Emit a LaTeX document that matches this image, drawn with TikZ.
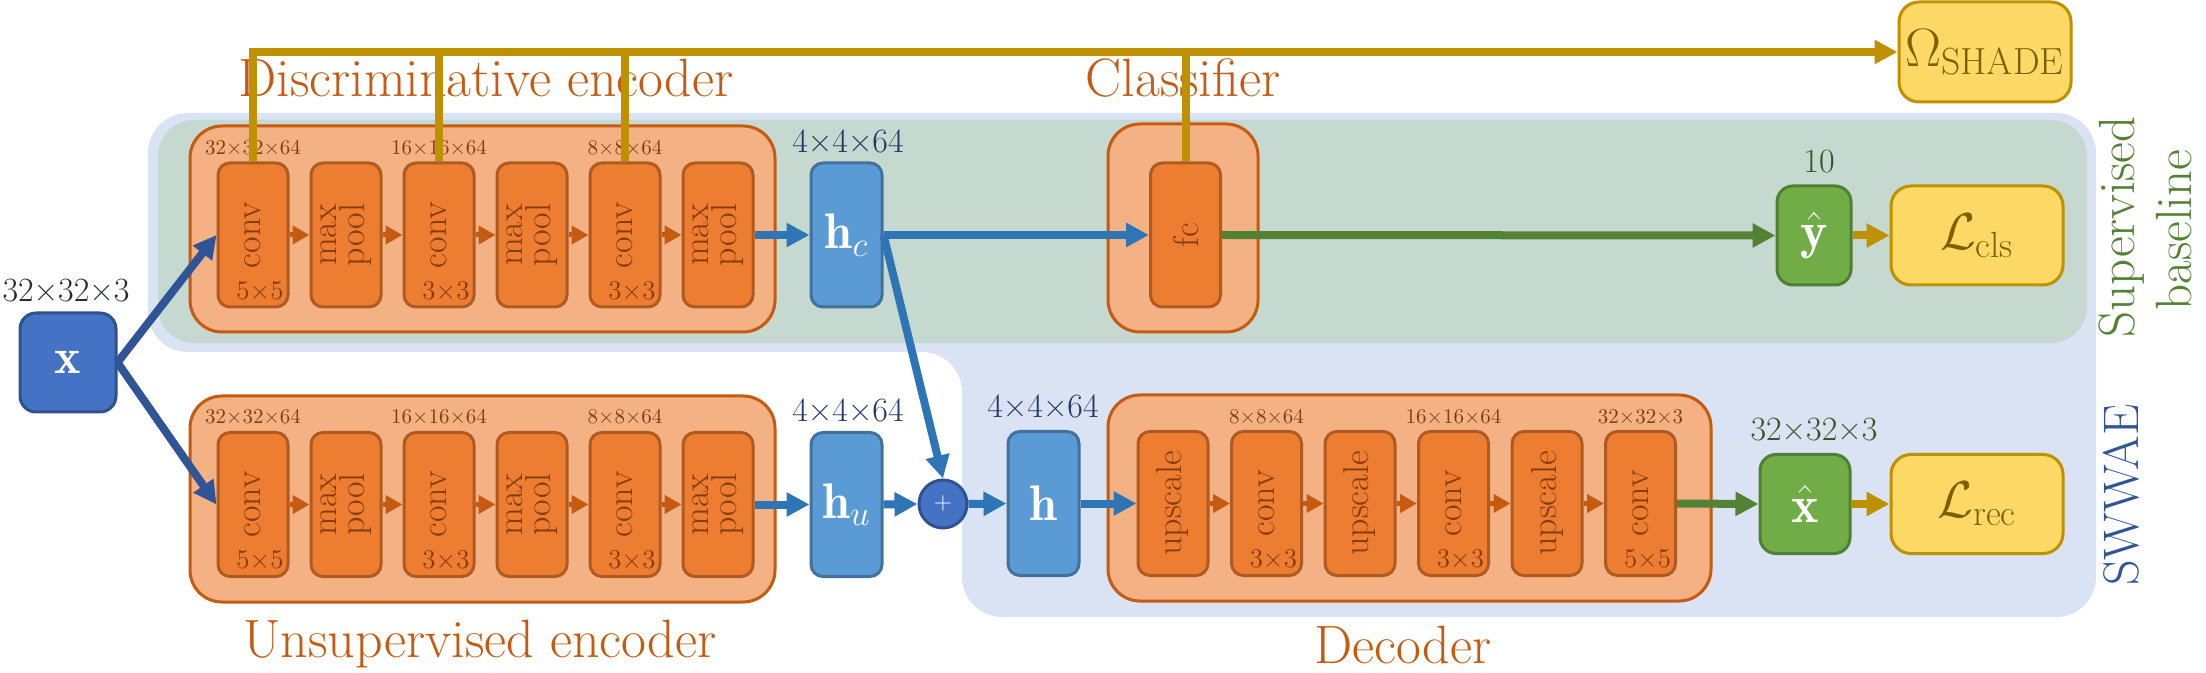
\RequirePackage{fix-cm}
\documentclass[tikz,border=0pt]{standalone}
\usepackage{fontspec}
\usepackage{amsmath}
\usetikzlibrary{arrows.meta,calc}
\definecolor{bluereg}{HTML}{DAE3F3}
\definecolor{greenreg}{HTML}{C5D9D1}
\definecolor{orlight}{HTML}{F4B183}
\definecolor{orborder}{HTML}{C55A11}
\definecolor{ordark}{HTML}{ED7D31}
\definecolor{orinborder}{HTML}{AE5A21}
\definecolor{txtbrown}{HTML}{843C0C}
\definecolor{hblue}{HTML}{5B9BD5}
\definecolor{hborder}{HTML}{41719C}
\definecolor{xblue}{HTML}{4472C4}
\definecolor{xborder}{HTML}{2F528F}
\definecolor{arrblue}{HTML}{2E75B6}
\definecolor{arrdark}{HTML}{2F5597}
\definecolor{gfill}{HTML}{70AD47}
\definecolor{gborder}{HTML}{507E32}
\definecolor{garrow}{HTML}{548235}
\definecolor{yfill}{HTML}{FFD966}
\definecolor{yborder}{HTML}{BF9000}
\definecolor{ytext}{HTML}{7F6000}
\definecolor{navy}{HTML}{203864}
\definecolor{darkgray}{HTML}{222A35}
\definecolor{dgreen}{HTML}{375623}
\tikzset{
 blk/.style={draw=orinborder, fill=ordark, line width=1.5pt, rounded corners=6pt, minimum width=35pt, minimum height=72pt, inner sep=0pt},
 outer/.style={draw=orborder, fill=orlight, line width=1.5pt, rounded corners=16pt, inner sep=0pt},
 rot/.style={rotate=90, text=txtbrown, font=\fontsize{18}{12.5}\selectfont, align=center, inner sep=0pt},
 ker/.style={text=txtbrown, font=\fontsize{13.5}{13.5}\selectfont, inner sep=0pt},
 dim/.style={text=txtbrown, font=\fontsize{10.5}{12}\selectfont, inner sep=0pt, anchor=base},
 hdim/.style={text=navy, font=\fontsize{17}{20}\selectfont, inner sep=0pt, anchor=base},
 hbox/.style={draw=hborder, fill=hblue, line width=1.5pt, rounded corners=6pt, minimum width=35.5pt, minimum height=72pt, text=white, font=\fontsize{25}{25}\selectfont, inner sep=0pt},
 xbox/.style={draw=xborder, fill=xblue, line width=1.5pt, rounded corners=8pt, minimum width=48pt, minimum height=49.5pt, text=white, font=\fontsize{25}{25}\selectfont, inner sep=0pt},
 gbox/.style={draw=gborder, fill=gfill, line width=1.5pt, rounded corners=8pt, minimum height=49.5pt, text=white, font=\fontsize{26}{26}\selectfont, inner sep=0pt},
 ybox/.style={draw=yborder, fill=yfill, line width=1.5pt, rounded corners=10pt, minimum width=86pt, minimum height=49.5pt, text=ytext, font=\fontsize{26}{26}\selectfont, inner sep=0pt},
 biglab/.style={text=orborder, font=\fontsize{27}{30}\selectfont, anchor=base, inner sep=0pt},
 sidelab/.style={rotate=90, anchor=base, font=\fontsize{25.5}{30}\selectfont, inner sep=0pt},
 sarr/.style={draw=orborder, line width=2.5pt, -{Triangle[length=8.5pt,width=9pt]}},
 barr/.style={draw=arrblue, line width=4pt, -{Triangle[length=11.5pt,width=11.5pt]}},
 darr/.style={draw=arrdark, line width=4pt, -{Triangle[length=11.5pt,width=11.5pt]}},
 garr/.style={draw=garrow, line width=4pt, -{Triangle[length=11.5pt,width=11.5pt]}},
 yarr/.style={draw=yborder, line width=4pt, -{Triangle[length=11.5pt,width=11.5pt]}},
 yline/.style={draw=yborder, line width=4pt},
}
\newcommand{\convbox}[4]{%
  \node[blk] (#1) at (#2,#3) {};
  \node[rot] (#1t) at (#1.center) {conv};
  \node[ker] (#1k) at ([xshift=3.5pt,yshift=9pt]#1.south) {#4};}
\newcommand{\poolbox}[3]{%
  \node[blk] (#1) at (#2,#3) {};
  \node[rot] (#1t) at (#1.center) {max\\pool};}
\newcommand{\upbox}[3]{%
  \node[blk] (#1) at (#2,#3) {};
  \node[rot] (#1t) at (#1.center) {upscale};}
\begin{document}
\begin{tikzpicture}[x=0.5pt,y=-0.5pt]
\useasboundingbox (0,0) rectangle (2206,673);
% regions
\fill[bluereg, rounded corners=20pt] (148,113) -- (2096,113) -- (2096,617) -- (962,617) -- (962,352) -- (148,352) -- cycle;
\fill[greenreg, rounded corners=18pt] (158,120) rectangle (2087,343);
% outer boxes
\node[outer, minimum width=292.5pt, minimum height=103pt] (denc) at (482.5,229) {};
\node[outer, minimum width=292.5pt, minimum height=103pt] (uenc) at (482.5,499) {};
\node[outer, minimum width=75pt, minimum height=104pt] (cls) at (1183,228) {};
\node[outer, minimum width=301.5pt, minimum height=103pt] (dec) at (1409.5,498) {};
% discriminative encoder
\convbox{dA}{253}{235}{5×5}
\poolbox{dB}{346}{235}
\convbox{dC}{439}{235}{3×3}
\poolbox{dD}{532}{235}
\convbox{dE}{625}{235}{3×3}
\poolbox{dF}{718}{235}
% unsupervised encoder
\convbox{uA}{253}{504.5}{5×5}
\poolbox{uB}{346}{504.5}
\convbox{uC}{439}{504.5}{3×3}
\poolbox{uD}{532}{504.5}
\convbox{uE}{625}{504.5}{3×3}
\poolbox{uF}{718}{504.5}
% decoder
\upbox{eA}{1173}{503.5}
\convbox{eB}{1266.5}{503.5}{3×3}
\upbox{eC}{1360}{503.5}
\convbox{eD}{1453.5}{503.5}{3×3}
\upbox{eE}{1547}{503.5}
\convbox{eF}{1640.5}{503.5}{5×5}
% classifier
\node[blk] (fc) at (1185.5,235) {};
\node[rot] (fct) at (fc.center) {fc};
% feature nodes
\node[xbox] (x) at (68,362.5) {$\mathbf{x}$};
\node[hbox] (hc) at (846.5,235) {$\mathbf{h}_{c}$};
\node[hbox] (hu) at (846.5,504.5) {$\mathbf{h}_{u}$};
\node[hbox] (h) at (1043.5,503.5) {$\mathbf{h}$};
\node[circle, draw=xborder, fill=xblue, line width=1.5pt, minimum size=24pt, inner sep=0pt, text=white, font=\fontsize{12}{12}\selectfont] (plus) at (943,504) {+};
\node[gbox, minimum width=37pt] (yhat) at (1814,235.5) {$\hat{\mathbf{y}}$};
\node[gbox, minimum width=45pt] (xhat) at (1805,504) {$\hat{\mathbf{x}}$};
\node[ybox] (lcls) at (1977,235.5) {$\mathcal{L}_{\mathrm{cls}}$};
\node[ybox] (lrec) at (1977,504) {$\mathcal{L}_{\mathrm{rec}}$};
\node[ybox, minimum height=50pt, font=\fontsize{27}{27}\selectfont] (omega) at (1985,52) {$\Omega_{\mathrm{SHADE}}$};
% dimension labels
\node[dim] (dAl) at (253,155) {32×32×64};
\node[dim] (dCl) at (439,155) {16×16×64};
\node[dim] (dEl) at (625,155) {8×8×64};
\node[dim] (uAl) at (253,424) {32×32×64};
\node[dim] (uCl) at (439,424) {16×16×64};
\node[dim] (uEl) at (625,424) {8×8×64};
\node[dim] (eBl) at (1266.5,423) {8×8×64};
\node[dim] (eDl) at (1453.5,423) {16×16×64};
\node[dim] (eFl) at (1640.5,423) {32×32×3};
\node[hdim] (hcl) at (848,153) {4×4×64};
\node[hdim] (hul) at (848,422) {4×4×64};
\node[hdim] (hl) at (1043,418) {4×4×64};
\node[hdim, text=darkgray] (xl) at (66,302) {32×32×3};
\node[hdim, text=dgreen] (yl) at (1819,173) {10};
\node[hdim, text=dgreen] (xhl) at (1814,441) {32×32×3};
% big labels
\node[biglab] (ldenc) at (486,97) {Discriminative encoder};
\node[biglab] (lcl) at (1183,97) {Classifier};
\node[biglab] (luenc) at (480,657) {Unsupervised encoder};
\node[biglab] (ldec) at (1403,663) {Decoder};
\node[sidelab, text=garrow] (sup1) at (2134,227) {Supervised};
\node[sidelab, text=garrow] (sup2) at (2191,230) {baseline};
\node[sidelab, text=arrdark, font=\fontsize{25}{30}\selectfont] (sw) at (2138,495) {SWWAE};
% small arrows
\foreach \a/\b in {dA/dB,dB/dC,dC/dD,dD/dE,dE/dF,uA/uB,uB/uC,uC/uD,uD/uE,uE/uF,eA/eB,eB/eC,eC/eD,eD/eE,eE/eF}
  \draw[sarr] (\a.east) -- (\b.west);
% main arrows
\draw[darr] (x.east) -- (dA.west);
\draw[darr] (x.east) -- (uA.west);
\draw[barr] (dF.east) -- (hc.west);
\draw[barr] (uF.east) -- (hu.west);
\draw[barr] (hc.east) -- (fc.west);
\draw[barr] (hc.east) -- (plus.north);
\draw[barr] (hu.east) -- (plus.west);
\draw[barr] (plus.east) -- (h.west);
\draw[barr] (h.east) -- (eA.west);
\draw[garr] (fc.east) -- (yhat.west);
\draw[garr] (eF.east) -- (xhat.west);
\draw[yarr] (yhat.east) -- (lcls.west);
\draw[yarr] (xhat.east) -- (lrec.west);
% gold regularization lines
\draw[yarr] (dA.north) |- (omega.west);
\draw[yline] (dC.north) -- (dC.north |- omega.west);
\draw[yline] (dE.north) -- (dE.north |- omega.west);
\draw[yline] (fc.north) -- (fc.north |- omega.west);
\end{tikzpicture}
\end{document}
